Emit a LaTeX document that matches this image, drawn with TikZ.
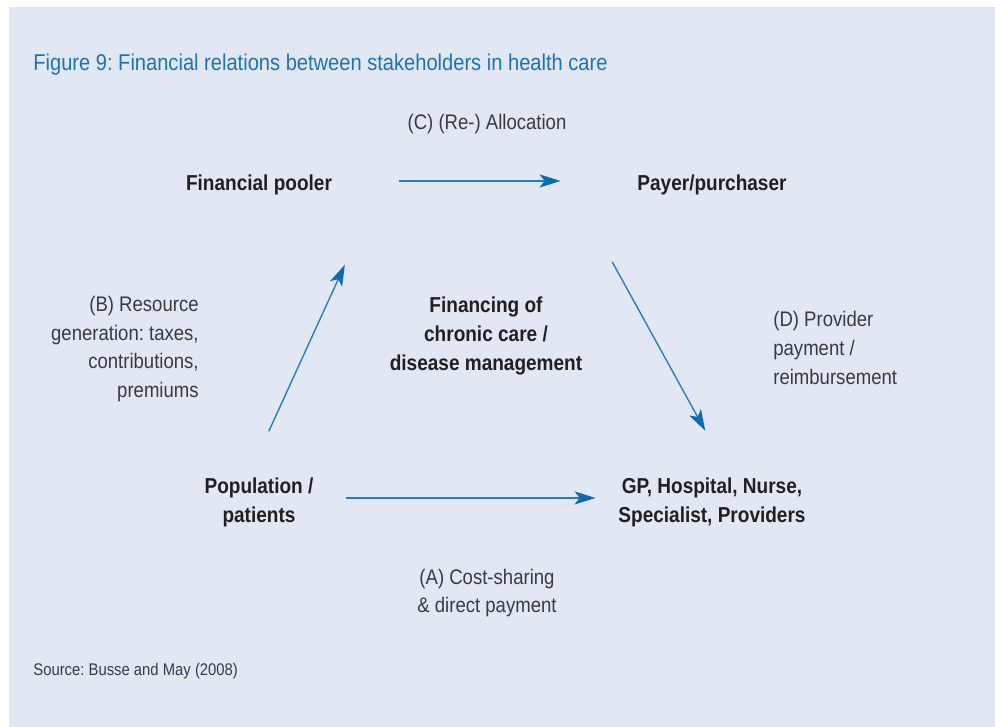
\documentclass[tikz,border=0pt]{standalone}
\usepackage{fontspec}
\setmainfont{Liberation Sans}[FakeStretch=0.88]
\frenchspacing
\usetikzlibrary{arrows.meta}
\definecolor{panel}{HTML}{E1E8F4}
\definecolor{titleblue}{HTML}{1F72B8}
\definecolor{flowblue}{HTML}{2A7DC0}
\definecolor{flowdark}{HTML}{0B6BB3}
\definecolor{inkgray}{HTML}{231F20}
\definecolor{labelgray}{HTML}{3A3A3C}
\tikzstyle{party} = [font=\fontsize{12.3}{16.6}\selectfont\bfseries, text=inkgray, align=center, inner sep=0pt]
\tikzstyle{flowlabel} = [font=\fontsize{12}{16.4}\selectfont, text=labelgray, inner sep=0pt]
\tikzstyle{flow} = [draw=flowblue, line width=0.8pt, -{Stealth[length=12pt,width=7.5pt,inset=3pt,color=flowdark]}]

\begin{document}
\begin{tikzpicture}[x=0.02cm, y=-0.02cm]
		% white margin and the tinted panel
		\fill[white] (0,0) rectangle (995,727);
		\fill[panel] (9,7) rectangle (995,727);
		\useasboundingbox (0,0) rectangle (995,727);

		\node [anchor=base west, font=\fontsize{13}{16}\selectfont, text=titleblue, inner sep=0pt](title) at (33,70){Figure 9: Financial relations between stakeholders in health care};

		% the four parties
		\node [party](pooler) at (259,185){Financial pooler};
		\node [party](payer) at (712,185){Payer/purchaser};
		\node [party](pop) at (259,502){Population /\\ patients};
		\node [party](prov) at (712,502){GP, Hospital, Nurse,\\ Specialist, Providers};
		\node [party](core) at (486,336){Financing of\\ chronic care /\\ disease management};

		% the flows between them
		\draw[flow, shorten <=79.4pt, shorten >=86.2pt]([yshift=2.3pt]pooler.center)--([yshift=2.3pt]payer.center);
		\draw[flow, shorten <=43pt, shorten >=51.1pt]([xshift=-12.3pt,yshift=1.1pt]pop.center)--([xshift=70.1pt,yshift=1.1pt]pooler.center);
		\draw[flow, shorten <=51.2pt, shorten >=45pt]([xshift=-81.5pt,yshift=1.1pt]payer.center)--([xshift=17.9pt,yshift=1.1pt]prov.center);
		\draw[flow, shorten <=49.3pt, shorten >=66.3pt]([yshift=2.3pt]pop.center)--([yshift=2.3pt]prov.center);

		\node [flowlabel](labC) at (487,124){(C) (Re-) Allocation};
		\node [flowlabel, anchor=east, align=right](labB) at (199,349){(B) Resource\\ generation: taxes,\\ contributions,\\ premiums};
		\node [flowlabel, anchor=west, align=left](labD) at (773,348){(D) Provider\\ payment /\\ reimbursement};
		\node [flowlabel, align=center](labA) at (487,593){(A) Cost-sharing\\ \& direct payment};

		\node [anchor=base west, font=\fontsize{9.6}{12}\selectfont, text=labelgray, inner sep=0pt](source) at (33,675){Source: Busse and May (2008)};
\end{tikzpicture}
\end{document}
